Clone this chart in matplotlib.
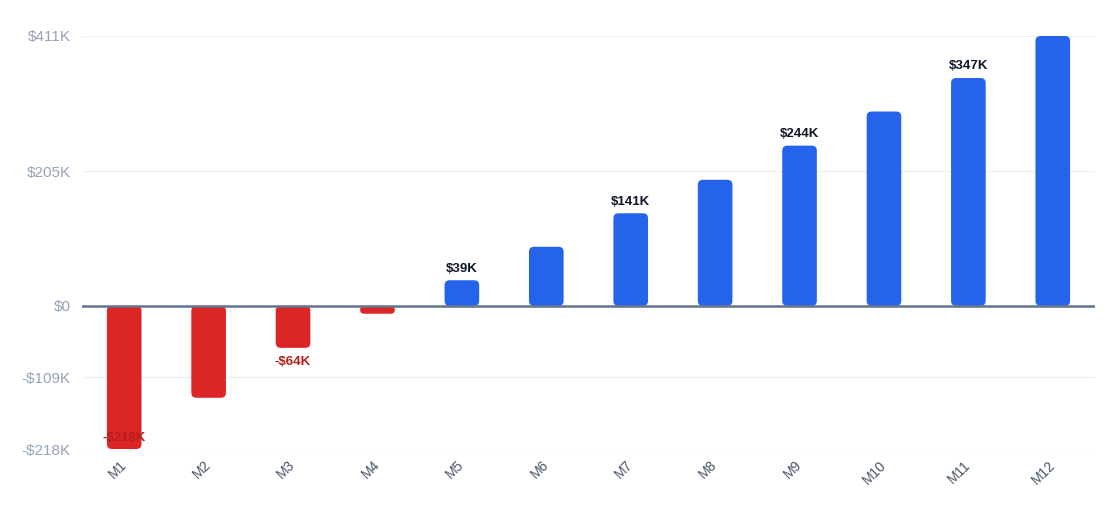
import matplotlib
matplotlib.use("Agg")
import matplotlib.pyplot as plt
from matplotlib.patches import FancyBboxPatch

plt.rcParams['font.family'] = ['Liberation Sans', 'DejaVu Sans']

months = ["M1", "M2", "M3", "M4", "M5", "M6", "M7", "M8", "M9", "M10", "M11", "M12"]
values = [-218, -140, -64, -12, 39, 90, 141, 192, 244, 296, 347, 411]  # $K
labeled = ["M1", "M3", "M5", "M7", "M9", "M11"]
ytick_vals = [-218, -109, 0, 205, 411]
ytick_labels = ["-$218K", "-$109K", "$0", "$205K", "$411K"]

POS = "#2563eb"
NEG = "#dc2626"

fig = plt.figure(figsize=(11.2, 5.31), dpi=100)
ax = fig.add_axes([82/1120, 82/531, (1095-82)/1120, (449-36)/531])

x = list(range(len(months)))
colors = [POS if v >= 0 else NEG for v in values]
bars = ax.bar(x, values, width=0.41, color=colors, zorder=3)

ax.set_xlim(-0.5, len(months) - 0.5)
ax.set_ylim(-218, 411)

# rounded corners
fig.canvas.draw()
px_per_x = ax.bbox.width / (ax.get_xlim()[1] - ax.get_xlim()[0])
px_per_y = ax.bbox.height / (ax.get_ylim()[1] - ax.get_ylim()[0])
for b in bars:
    bx, by, bw, bh = b.get_x(), b.get_y(), b.get_width(), b.get_height()
    if bh < 0:
        by, bh = by + bh, -bh
    r = 5.0
    rr = min(r, bh * px_per_y / 2, bw * px_per_x / 2)
    patch = FancyBboxPatch((bx, by), bw, bh,
                           boxstyle=f"round,pad=0,rounding_size={rr/px_per_x}",
                           mutation_aspect=px_per_x / px_per_y,
                           facecolor=b.get_facecolor(), edgecolor="none",
                           zorder=3, clip_on=False)
    ax.add_patch(patch)
    b.set_visible(False)

ax.set_yticks(ytick_vals)
ax.set_yticklabels(ytick_labels)
ax.tick_params(axis='y', length=0, pad=8, labelsize=11, labelcolor="#94a3b8")
ax.set_xticks(x)
ax.set_xticklabels(months, rotation=45, ha='right', va='center', rotation_mode='anchor')
ax.tick_params(axis='x', length=0, pad=10, labelsize=10, labelcolor="#475569")

ax.grid(axis='y', color="#eef0f4", linewidth=1, zorder=0)
ax.axhline(0, color="#64748b", linewidth=1.8, zorder=4)
for s in ax.spines.values():
    s.set_visible(False)

for i, (m, v) in enumerate(zip(months, values)):
    if m not in labeled:
        continue
    if v >= 0:
        ax.annotate(f"${v}K", (i, v), xytext=(0, 4), textcoords='offset points',
                    ha='center', va='bottom', fontsize=9.5, fontweight='bold',
                    color="#0f172a", zorder=5)
    else:
        if v > -200:
            ax.annotate(f"-${-v}K", (i, v), xytext=(0, -6),
                        textcoords='offset points', ha='center', va='top',
                        fontsize=9.5, fontweight='bold', color="#b91c1c", zorder=5)
        else:
            ax.annotate(f"-${-v}K", (i, -218), xytext=(0, 8),
                        textcoords='offset points', ha='center', va='center',
                        fontsize=9.5, fontweight='bold', color="#b91c1c", zorder=5)

fig.savefig("out.png", dpi=100, facecolor="white")
